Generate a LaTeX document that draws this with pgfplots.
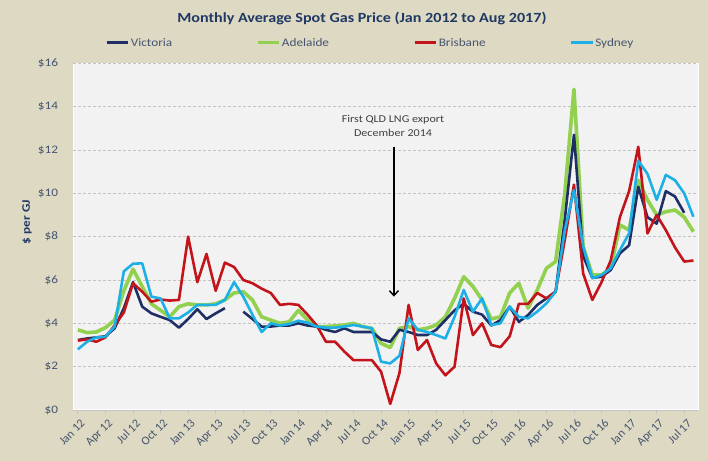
\documentclass[border=0pt]{standalone}
\usepackage{fontspec}
\setmainfont{Carlito}[FakeStretch=1.15]
\newfontfamily\tickfont{Carlito}
\usepackage{pgfplots}
\usepackage{pgfplotstable}
\pgfplotsset{compat=1.18}
\usetikzlibrary{arrows.meta}
\definecolor{bgc}{HTML}{DDD9C3}
\definecolor{plotbg}{HTML}{F2F2F2}
\definecolor{vic}{HTML}{1F2F66}
\definecolor{ade}{HTML}{92D050}
\definecolor{bri}{HTML}{C4141B}
\definecolor{syd}{HTML}{1DB0E6}
\definecolor{titlec}{HTML}{1F3864}
\definecolor{labc}{HTML}{46546E}
\definecolor{gridc}{HTML}{C4C4C4}
\definecolor{annc}{HTML}{404040}

\pgfplotstableread{
i vic ade bri syd
0 3.23 3.70 3.20 2.80
1 3.30 3.57 3.26 3.15
2 3.35 3.60 3.15 3.35
3 3.40 3.80 3.35 3.38
4 3.77 4.15 3.90 3.85
5 4.70 5.50 4.50 6.40
6 5.90 6.50 5.85 6.75
7 4.77 5.70 5.46 6.77
8 4.46 4.90 5.00 5.23
9 4.30 4.60 5.10 5.15
10 4.15 4.30 5.05 4.23
11 3.80 4.77 5.08 4.23
12 4.20 4.90 8.00 4.50
13 4.65 4.85 5.90 4.85
14 4.20 4.85 7.20 4.85
15 4.46 4.90 5.50 4.85
16 4.70 5.08 6.80 5.08
17 nan 5.40 6.60 5.90
18 4.54 5.46 6.00 5.23
19 4.20 5.08 5.85 4.40
20 3.85 4.30 5.60 3.60
21 3.85 4.15 5.40 4.00
22 3.90 4.00 4.85 3.90
23 3.90 4.07 4.90 3.97
24 4.00 4.60 4.85 4.12
25 3.90 4.15 4.40 4.03
26 3.85 3.85 3.90 3.85
27 3.70 3.85 3.15 3.80
28 3.60 3.88 3.15 3.80
29 3.77 3.92 2.70 3.85
30 3.60 4.00 2.30 3.92
31 3.60 3.85 2.30 3.85
32 3.60 3.77 2.30 3.77
33 3.26 3.08 1.77 2.23
34 3.15 2.88 0.28 2.15
35 3.70 3.77 1.70 2.50
36 3.60 3.85 4.85 4.23
37 3.46 3.70 2.77 3.70
38 3.46 3.77 3.23 3.60
39 3.70 3.92 2.15 3.46
40 4.15 4.30 1.60 3.30
41 4.60 5.15 2.00 4.30
42 4.90 6.15 5.15 5.54
43 4.54 5.70 3.46 4.54
44 4.40 5.08 4.00 5.15
45 3.90 4.20 3.00 3.92
46 4.15 4.30 2.90 4.00
47 4.77 5.40 3.40 4.77
48 4.07 5.85 4.90 4.30
49 4.38 4.70 4.90 4.23
50 4.85 5.54 5.40 4.54
51 5.15 6.54 5.15 4.92
52 5.46 6.85 5.46 5.46
53 8.80 10.00 7.85 8.30
54 12.70 14.80 10.40 10.15
55 7.10 7.54 6.30 7.54
56 6.10 6.23 5.08 6.08
57 6.15 6.23 5.90 6.23
58 6.46 6.54 6.90 6.54
59 7.23 8.54 8.90 7.38
60 7.60 8.30 10.10 8.15
61 10.30 10.60 12.15 11.50
62 8.90 9.70 8.15 10.90
63 8.60 9.00 9.00 9.70
64 10.10 9.15 8.30 10.85
65 9.85 9.23 7.50 10.60
66 9.10 8.90 6.85 10.00
67 nan 8.23 6.90 8.92
}\gasdata

\begin{document}
\begin{tikzpicture}
\path[use as bounding box, fill=bgc] (-73.3bp,-51bp) rectangle (634.7bp,410bp);
\begin{axis}[
  at={(0,0)}, anchor=south west,
  scale only axis, width=624.7bp, height=346.7bp,
  xmin=-0.5, xmax=67.5, ymin=0, ymax=16,
  axis background/.style={fill=plotbg, draw=white, line width=1bp},
  axis x line*=bottom, axis y line*=left,
  x axis line style={-, draw=gridc, line width=0.8bp},
  y axis line style={draw=none},
  unbounded coords=jump,
  ytick={0,2,...,16},
  yticklabels={\$0,\$2,\$4,\$6,\$8,\$10,\$12,\$14,\$16},
  ymajorgrids,
  grid style={dash pattern=on 3bp off 2bp, draw=gridc, line width=0.8bp},
  ytick style={draw=none},
  xtick={0,3,...,66},
  xticklabels={Jan 12,Apr 12,Jul 12,Oct 12,Jan 13,Apr 13,Jul 13,Oct 13,Jan 14,Apr 14,Jul 14,Oct 14,Jan 15,Apr 15,Jul 15,Oct 15,Jan 16,Apr 16,Jul 16,Oct 16,Jan 17,Apr 17,Jul 17},
  xtick style={draw=gridc, line width=0.8bp},
  tick align=outside, major tick length=4bp,
  x tick label style={rotate=45, anchor=north east, yshift=-3bp, font=\tickfont\fontsize{12bp}{13bp}\selectfont, text=labc, inner sep=1.5bp},
  y tick label style={font=\fontsize{11.5bp}{13bp}\selectfont, text=labc, anchor=east, inner sep=0pt},
  yticklabel shift=11bp,
  ylabel={\$ per GJ},
  ylabel style={at={(axis description cs:-0.0741,0.542)}, anchor=center, font=\bfseries\fontsize{11.5bp}{13bp}\selectfont, text=titlec},
  title={Monthly Average Spot Gas Price (Jan 2012 to Aug 2017)},
  title style={at={(axis description cs:0.462,1.1018)}, anchor=base, font=\bfseries\fontsize{14bp}{16bp}\selectfont, text=titlec},
  legend style={at={(axis description cs:0.0507,1.0586)}, anchor=west, draw=none, fill=none, inner sep=0pt,
    font=\fontsize{11.5bp}{13bp}\selectfont, text=labc,
    nodes={inner sep=0pt},
    /tikz/every odd column/.append style={column sep=1bp},
    /tikz/every even column/.append style={column sep=84bp}},
  legend columns=4,
  legend cell align=left,
  legend image code/.code={\draw[#1] (0bp,0bp) -- (21.7bp,0bp);},
]
\addlegendimage{vic, line width=3bp}
\addlegendentry{Victoria}
\addlegendimage{ade, line width=3bp}
\addlegendentry{Adelaide}
\addlegendimage{bri, line width=3bp}
\addlegendentry{Brisbane}
\addlegendimage{syd, line width=3bp}
\addlegendentry{Sydney}

\addplot[forget plot, ade, line width=3.6bp, line join=round] table[x=i, y=ade] {\gasdata};
\addplot[forget plot, vic, line width=2.6bp, line join=round] table[x=i, y=vic] {\gasdata};
\addplot[forget plot, bri, line width=2.6bp, line join=round] table[x=i, y=bri] {\gasdata};
\addplot[forget plot, syd, line width=2.6bp, line join=round] table[x=i, y=syd] {\gasdata};

\node[align=center, text=annc, font=\fontsize{10.5bp}{14bp}\selectfont] at (axis cs:34.3,13.09) {First QLD LNG export\\December 2014};
\draw[-{Straight Barb[length=5bp, width=9bp]}, line width=1.4bp, black] (axis cs:34.4,12.15) -- (axis cs:34.4,5.23);
\end{axis}
\end{tikzpicture}
\end{document}
